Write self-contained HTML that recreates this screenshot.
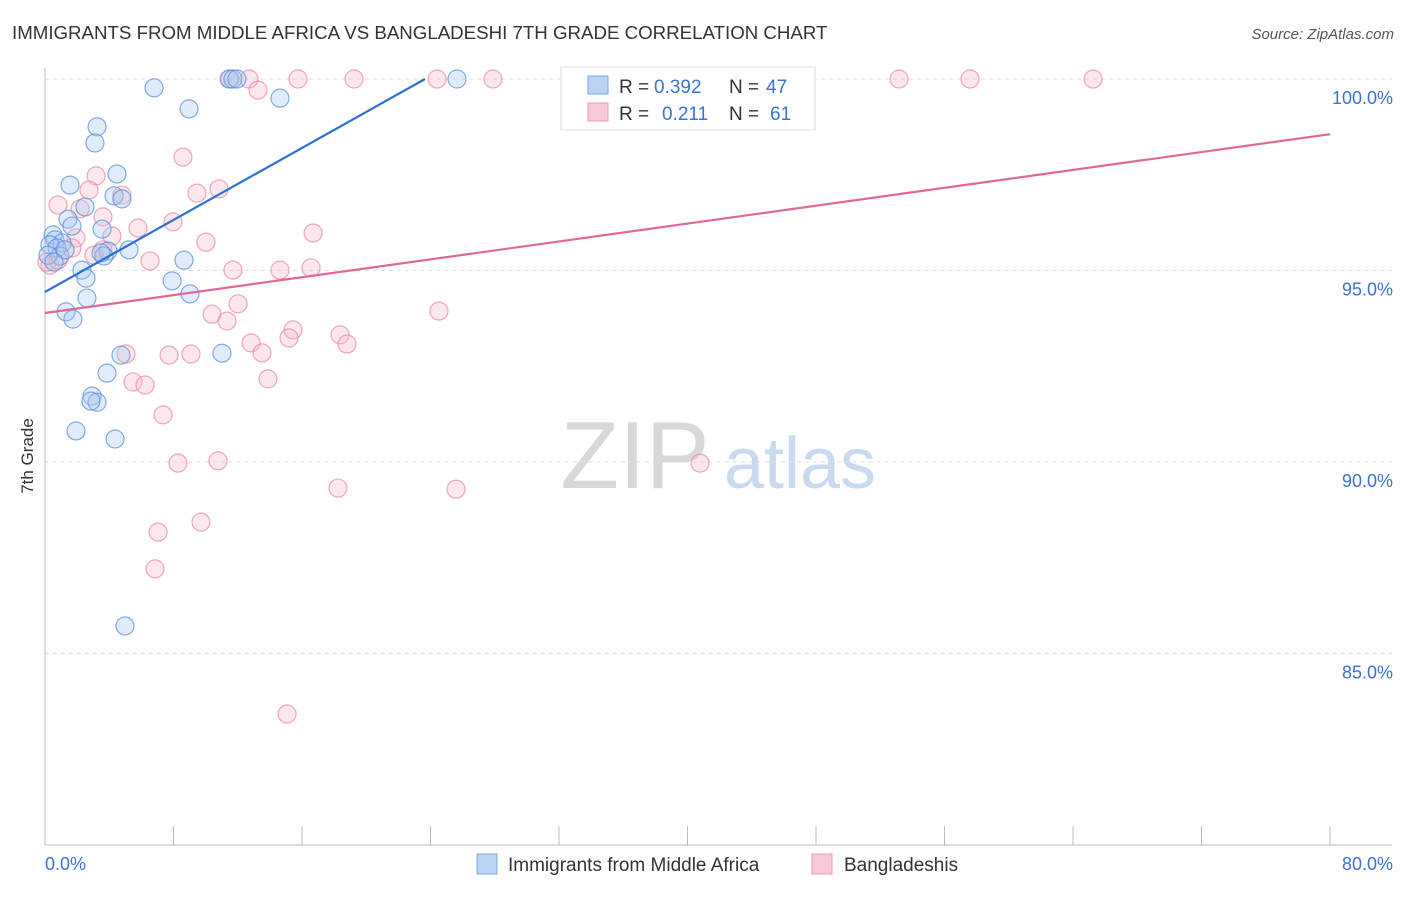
<!DOCTYPE html>
<html><head><meta charset="utf-8"><style>
body{margin:0;background:#fff;font-family:"Liberation Sans",sans-serif}
svg text{font-family:"Liberation Sans",sans-serif}
</style></head><body>
<svg id="chart" width="1406" height="892" viewBox="0 0 1406 892" xmlns="http://www.w3.org/2000/svg">
<text x="12" y="39" font-size="18.7" fill="#333">IMMIGRANTS FROM MIDDLE AFRICA VS BANGLADESHI 7TH GRADE CORRELATION CHART</text>
<text x="1394" y="39" font-size="15" fill="#555" text-anchor="end" font-style="italic">Source: ZipAtlas.com</text>
<g>
<text x="635" y="488" font-size="96" fill="#d8d8d8" text-anchor="middle" font-family="Liberation Serif">ZIP</text>
<text x="800" y="488" font-size="72" fill="#c9daf0" text-anchor="middle">atlas</text>
</g>
<g id="grid"></g>
<g id="axes"></g>
<g id="pts"></g>
<g id="trend"></g>
<text transform="translate(33,456) rotate(-90)" font-size="17" fill="#333" text-anchor="middle">7th Grade</text>
<g>
<rect x="561" y="67" width="254" height="63" fill="#fff" stroke="#ddd"/>
<rect x="588" y="76" width="20" height="18" fill="#b9d3f5" stroke="#7aa5e0"/>
<rect x="588" y="103" width="20" height="18" fill="#fbc8d7" stroke="#ea9bb5"/>
<text x="619" y="93" font-size="19" fill="#333">R =</text>
<text x="654" y="93" font-size="19" fill="#3a72d0">0.392</text>
<text x="729" y="93" font-size="19" fill="#333">N =</text>
<text x="766" y="93" font-size="19" fill="#3a72d0">47</text>
<text x="619" y="120" font-size="19" fill="#333">R =</text>
<text x="662" y="120" font-size="19" fill="#3a72d0">0.211</text>
<text x="729" y="120" font-size="19" fill="#333">N =</text>
<text x="770" y="120" font-size="19" fill="#3a72d0">61</text>
</g>
<g>
<rect x="477" y="854" width="20" height="20" fill="#b9d3f5" stroke="#7aa5e0"/>
<text x="508" y="871" font-size="19" fill="#333">Immigrants from Middle Africa</text>
<rect x="812" y="854" width="20" height="20" fill="#fbc8d7" stroke="#ea9bb5"/>
<text x="844" y="871" font-size="19" fill="#333">Bangladeshis</text>
</g>
</svg>
<script>
const blueX=[6.79,11.46,11.70,11.95,25.65,8.97,14.63,3.24,3.11,4.48,1.56,4.30,4.79,2.49,1.43,1.68,3.55,0.50,0.62,1.06,0.31,0.75,3.92,5.23,3.67,0.93,0.19,8.65,2.30,2.55,7.91,9.03,2.61,1.31,1.74,4.73,11.02,3.86,2.93,3.24,2.86,1.93,4.36,4.98,1.25,0.56,3.49];
const blueY=[99.77,100,100,100,100,99.22,99.50,98.75,98.33,97.52,97.23,96.95,96.87,96.66,96.34,96.16,96.08,95.93,95.80,95.72,95.67,95.59,95.51,95.54,95.38,95.38,95.40,95.27,95.01,94.80,94.73,94.39,94.28,93.92,93.73,92.79,92.84,92.32,91.72,91.56,91.59,90.81,90.60,85.72,95.54,95.22,95.46];
const pinkX=[11.52,12.70,13.26,15.75,19.24,24.41,27.89,53.17,57.59,65.25,8.59,3.18,2.74,4.79,9.46,10.83,0.81,2.18,3.61,7.97,16.69,5.79,4.17,1.93,10.02,3.61,1.68,0.31,6.54,11.70,14.63,16.56,12.02,10.40,11.33,24.53,15.44,15.19,18.37,18.80,12.83,13.51,5.04,7.72,9.09,5.48,6.23,13.88,7.35,8.28,10.77,40.78,18.24,25.59,9.71,7.04,6.85,15.07,0.12,0.81,3.05];
const pinkY=[100,100,99.71,100,100,100,100,100,100,100,97.96,97.47,97.10,96.97,97.02,97.13,96.71,96.61,96.40,96.27,95.98,96.11,95.90,95.85,95.74,95.54,95.59,95.14,95.25,95.01,95.01,95.07,94.13,93.86,93.68,93.94,93.45,93.24,93.32,93.08,93.11,92.85,92.82,92.79,92.82,92.09,92.01,92.17,91.23,89.97,90.03,89.97,89.32,89.29,88.43,88.17,87.21,83.42,95.22,95.27,95.40];
const yTicks=[100,95,90,85];
const yTickLabels=["100.0%","95.0%","90.0%","85.0%"];
const xTicks=[0,8,16,24,32,40,48,56,64,72,80];
const blueTrend=[[0,94.44],[23.66,100]];
const pinkTrend=[[0,93.89],[80,98.56]];
const X=v=>45+v*1285/80, Y=v=>79+(100-v)*38.3;
const NS="http://www.w3.org/2000/svg";
function mk(p,t,a){const e=document.createElementNS(NS,t);for(const k in a)e.setAttribute(k,a[k]);p.appendChild(e);return e;}
const g=document.getElementById('grid'),ax=document.getElementById('axes'),pts=document.getElementById('pts'),tr=document.getElementById('trend');
yTicks.forEach((t,i)=>{
 const l=mk(g,'line',{x1:45,x2:1392,y1:Y(t),y2:Y(t),stroke:'#ddd','stroke-dasharray':'4,4'});
 
 
 const tx=mk(g,'text',{x:1393,y:Y(t)+25,'font-size':18,fill:'#3a72d0','text-anchor':'end'});
 tx.textContent=yTickLabels[i];
 
 
});
mk(ax,'line',{x1:45,x2:45,y1:68,y2:845,stroke:'#bbb'});
mk(ax,'line',{x1:45,x2:1392,y1:845,y2:845,stroke:'#bbb'});
xTicks.forEach(t=>{const l=mk(ax,'line',{x1:X(t),x2:X(t),y1:826,y2:845,stroke:'#bbb'});
 
 });
const x0=mk(ax,'text',{x:45,y:870,'font-size':18,fill:'#3a72d0'});x0.textContent='0.0%';


const x1=mk(ax,'text',{x:1393,y:870,'font-size':18,fill:'#3a72d0','text-anchor':'end'});x1.textContent='80.0%';


function dots(xs,ys,fill,stroke,name){xs.forEach((x,i)=>{const c=mk(pts,'circle',{cx:X(x),cy:Y(ys[i]),r:9,fill:fill,'fill-opacity':0.35,stroke:stroke,'stroke-opacity':0.75,'stroke-width':1.2});
 
 });}
dots(pinkX,pinkY,'#f7b9cc','#e88aa8','point-bangladeshi');
dots(blueX,blueY,'#a9c8f0','#5b8fdc','point-middle-africa');
const b=mk(tr,'line',{x1:X(blueTrend[0][0]),y1:Y(blueTrend[0][1]),x2:X(blueTrend[1][0]),y2:Y(blueTrend[1][1]),stroke:'#2a6fd6','stroke-width':2.2});


const p=mk(tr,'line',{x1:X(pinkTrend[0][0]),y1:Y(pinkTrend[0][1]),x2:X(pinkTrend[1][0]),y2:Y(pinkTrend[1][1]),stroke:'#e0679a','stroke-width':2.2});


</script>
</body></html>
